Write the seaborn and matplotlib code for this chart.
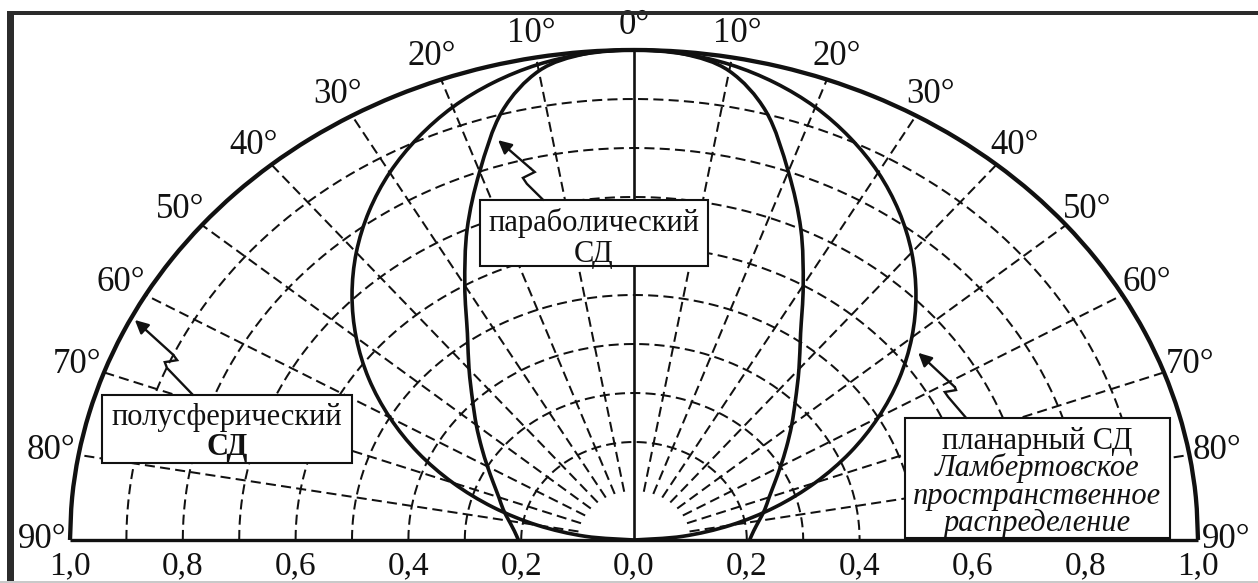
import numpy as np
import pandas as pd
import matplotlib
matplotlib.use("Agg")
import matplotlib.pyplot as plt
from matplotlib.patches import Rectangle, PathPatch
from matplotlib.path import Path
import seaborn as sns

# Emission angle measured from the optical axis, degrees
angle_deg = [0, 5, 10, 15, 20, 25, 30, 35, 40, 45, 50, 55, 60, 65, 70, 75, 80, 85, 90]

# Relative luminous intensity of the three LED types
hemispherical = [1.000, 1.000, 1.000, 1.000, 1.000, 1.000, 1.000, 1.000, 1.000, 1.000,
                 1.000, 1.000, 1.000, 1.000, 1.000, 1.000, 1.000, 1.000, 1.000]
planar = [1.000, 0.996, 0.985, 0.966, 0.940, 0.906, 0.866, 0.819, 0.766, 0.707,
          0.643, 0.574, 0.500, 0.423, 0.342, 0.259, 0.174, 0.087, 0.000]
parabolic = [1.000, 0.996, 0.972, 0.905, 0.800, 0.700, 0.600, 0.515, 0.455, 0.405,
             0.365, 0.330, 0.300, 0.275, 0.255, 0.240, 0.225, 0.213, 0.205]

# Scale labels along the base line and angle labels round the rim
radius_ticks = [-1.0, -0.8, -0.6, -0.4, -0.2, 0.0, 0.2, 0.4, 0.6, 0.8, 1.0]
radius_labels = ["1,0", "0,8", "0,6", "0,4", "0,2", "0,0", "0,2", "0,4", "0,6", "0,8", "1,0"]
rim_angles = [-90, -80, -70, -60, -50, -40, -30, -20, -10, 0, 10, 20, 30, 40, 50, 60, 70, 80, 90]

grid_radii = [0.2, 0.3, 0.4, 0.5, 0.6, 0.7, 0.8, 0.9]
grid_spokes = [-80, -70, -60, -50, -40, -30, -20, -10, 10, 20, 30, 40, 50, 60, 70, 80]

SERIF = ["Liberation Serif", "DejaVu Serif"]
sns.set_theme(style="white")
plt.rcParams["font.family"] = SERIF
plt.rcParams["font.serif"] = SERIF

INK = "#111111"
XLIM = (-634 / 564, (1258 - 634) / 564)
YLIM = (-(583 - 540) / 490, 540 / 490)


def polar_frame(name, values):
    """Mirror a one-sided pattern onto both sides of the axis, in x/y form."""
    th = np.array(angle_deg, dtype=float)
    r = np.array(values, dtype=float)
    signed = np.concatenate([-th[::-1], th[1:]])
    rr = np.concatenate([r[::-1], r[1:]])
    rad = np.deg2rad(signed)
    return pd.DataFrame({"led": name, "x": rr * np.sin(rad), "y": rr * np.cos(rad)})


def smooth_path(xs, ys):
    """Catmull-Rom curve through the points, as a cubic Bezier path."""
    p = np.column_stack([xs, ys])
    ext = np.vstack([p[0], p, p[-1]])
    verts = [p[0]]
    codes = [Path.MOVETO]
    for i in range(1, len(ext) - 2):
        p0, p1, p2, p3 = ext[i - 1], ext[i], ext[i + 1], ext[i + 2]
        verts += [p1 + (p2 - p0) / 6.0, p2 - (p3 - p1) / 6.0, p2]
        codes += [Path.CURVE4] * 3
    return Path(np.array(verts), codes)


fig = plt.figure(figsize=(12.58, 5.83), dpi=100)
ax = fig.add_axes([0, 0, 1, 1])

# dashed polar grid: rings of equal intensity and spokes every 10 degrees
dash = (0, (5, 2.6))
phi = np.linspace(-90, 90, 361)
rings = pd.DataFrame([(rg, np.sin(np.deg2rad(a)) * rg, np.cos(np.deg2rad(a)) * rg)
                      for rg in grid_radii for a in phi], columns=["ring", "x", "y"])
sns.lineplot(data=rings, x="x", y="y", units="ring", estimator=None, sort=False,
             color=INK, lw=1.45, ls=dash, ax=ax, zorder=1, legend=False)
spokes = pd.DataFrame([(a, np.sin(np.deg2rad(a)) * rr, np.cos(np.deg2rad(a)) * rr)
                       for a in grid_spokes for rr in (0.1, 1.0)], columns=["spoke", "x", "y"])
sns.lineplot(data=spokes, x="x", y="y", units="spoke", estimator=None, sort=False,
             color=INK, lw=1.45, ls=dash, ax=ax, zorder=1, legend=False)

# axis of symmetry and base line
ax.plot([0, 0], [0, 1], color=INK, lw=1.9, zorder=2)
ax.plot([-1, 1], [0, 0], color=INK, lw=2.4, zorder=2, solid_capstyle="butt")

# radiation patterns
curves = pd.concat([polar_frame("hemi", hemispherical),
                    polar_frame("planar", planar),
                    polar_frame("parab", parabolic)], ignore_index=True)
for name, lw in [("hemi", 3.1), ("planar", 2.6), ("parab", 2.6)]:
    sub = curves[curves["led"] == name]
    ax.add_patch(PathPatch(smooth_path(sub["x"].to_numpy(), sub["y"].to_numpy()),
                           fill=False, edgecolor=INK, lw=lw, zorder=3,
                           capstyle="butt", joinstyle="round"))

ax.set_xlim(*XLIM)
ax.set_ylim(*YLIM)
ax.axis("off")

# rim labels
for a in rim_angles:
    t = np.deg2rad(a)
    ax.text(1.05 * np.sin(t), 1.05 * np.cos(t), f"{abs(a)}°", fontsize=25,
            ha="center", va="center", color=INK, zorder=4)

# base-line scale
for xv, lab in zip(radius_ticks, radius_labels):
    ax.text(xv, -0.053, lab, fontsize=24, ha="center", va="center", color=INK, zorder=4)


def label_box(x0, x1, y0, y1, lines):
    ax.add_patch(Rectangle((x0, y0), x1 - x0, y1 - y0, facecolor="white",
                           edgecolor=INK, lw=1.5, zorder=5))
    for (ty, txt, style, weight) in lines:
        ax.text((x0 + x1) / 2, ty, txt, fontsize=22, ha="center", va="center",
                style=style, weight=weight, color=INK, zorder=6)


def zigzag_arrow(points):
    xs, ys = zip(*points)
    ax.plot(xs[:-1], ys[:-1], color=INK, lw=1.7, zorder=6, solid_joinstyle="miter")
    ax.annotate("", xy=points[-1], xytext=points[-2],
                arrowprops=dict(arrowstyle="-|>", color=INK, lw=1.7,
                                mutation_scale=20, shrinkA=0, shrinkB=0), zorder=6)


label_box(-0.273, 0.131, 0.559, 0.694,
          [(0.646, "параболический", "normal", "normal"),
           (0.583, "СД", "normal", "normal")])
label_box(-0.943, -0.500, 0.157, 0.296,
          [(0.249, "полусферический", "normal", "normal"),
           (0.188, "СД", "normal", "bold")])
label_box(0.480, 0.950, 0.004, 0.249,
          [(0.202, "планарный СД", "normal", "normal"),
           (0.146, "Ламбертовское", "italic", "normal"),
           (0.088, "пространственное", "italic", "normal"),
           (0.034, "распределение", "italic", "normal")])

zigzag_arrow([(-0.161, 0.694), (-0.190, 0.727), (-0.197, 0.739), (-0.176, 0.751),
              (-0.184, 0.759), (-0.241, 0.816)])
zigzag_arrow([(-0.782, 0.296), (-0.828, 0.351), (-0.832, 0.363), (-0.810, 0.367),
              (-0.817, 0.378), (-0.885, 0.449)])
zigzag_arrow([(0.589, 0.249), (0.557, 0.292), (0.551, 0.302), (0.571, 0.306),
              (0.569, 0.312), (0.504, 0.382)])

# dark scan frame on the top and left edges, faint line at the bottom
H, W = 583.0, 1258.0
fig.add_artist(Rectangle((7 / W, 1 - 15 / H), 1 - 7 / W, 4 / H,
                         transform=fig.transFigure, facecolor="#2b2b2b", edgecolor="none"))
fig.add_artist(Rectangle((7 / W, 0), 7 / W, 1 - 11 / H,
                         transform=fig.transFigure, facecolor="#2b2b2b", edgecolor="none"))
fig.add_artist(Rectangle((0, 0), 1, 2 / H, transform=fig.transFigure,
                         facecolor="#c9c9c9", edgecolor="none"))

fig.savefig("out.png", dpi=100, facecolor="white")
